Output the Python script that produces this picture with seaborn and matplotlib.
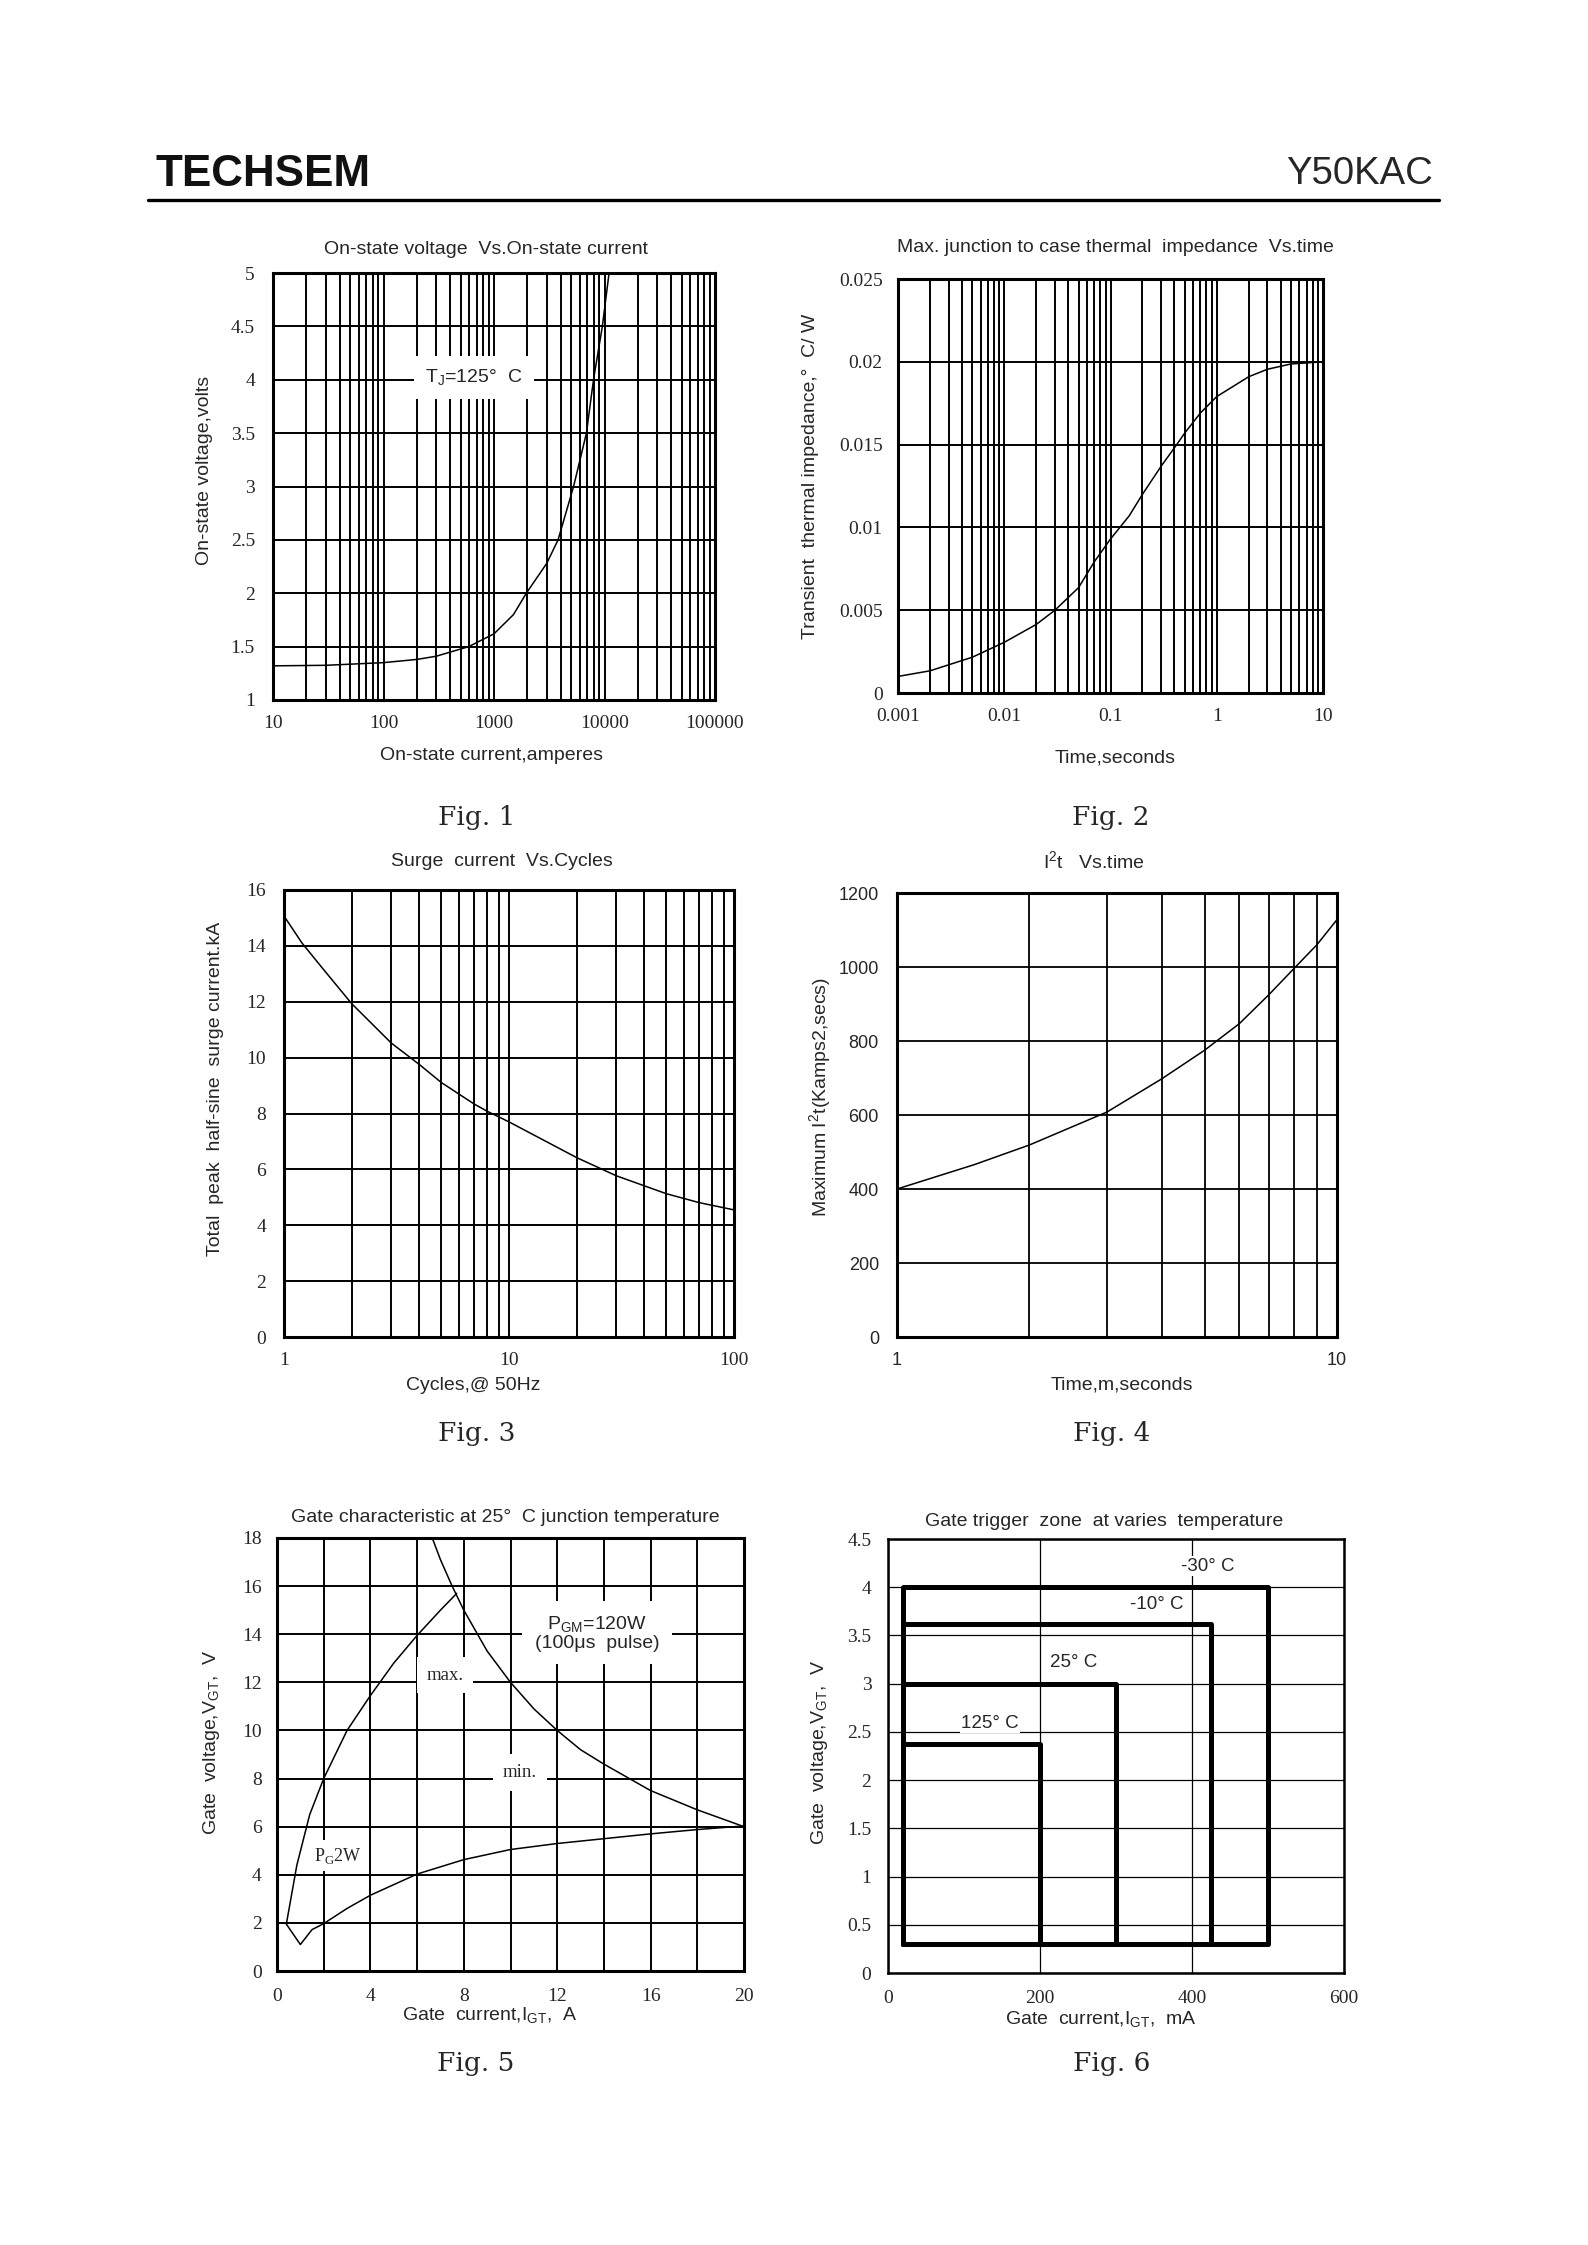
import numpy as np
import seaborn as sns
import matplotlib.pyplot as plt
from matplotlib.ticker import LogLocator, NullLocator, NullFormatter
from matplotlib.lines import Line2D

# page size in pixels
W, H = 1588, 2245

# Fig.1 on-state voltage vs on-state current
f1_current = [10, 30, 100, 200, 300, 590, 1000, 1500, 1960, 3000, 3800, 5250, 6860, 7950, 9560, 11000]
f1_voltage = [1.32, 1.325, 1.35, 1.38, 1.41, 1.5, 1.62, 1.8, 2.0, 2.28, 2.5, 3.0, 3.5, 4.0, 4.5, 5.0]
f1_xticks = [10, 100, 1000, 10000, 100000]
f1_xlabels = ["10", "100", "1000", "10000", "100000"]
f1_yticks = [1, 1.5, 2, 2.5, 3, 3.5, 4, 4.5, 5]
f1_ylabels = ["1", "1.5", "2", "2.5", "3", "3.5", "4", "4.5", "5"]

# Fig.2 transient thermal impedance vs time
f2_time = [0.001, 0.002, 0.005, 0.01, 0.02, 0.03, 0.05, 0.07, 0.1, 0.15, 0.2, 0.3, 0.42, 0.5, 0.7, 1, 2, 3, 5, 10]
f2_zth = [0.0010, 0.00134, 0.00216, 0.00306, 0.00414, 0.0050, 0.00636, 0.0079, 0.0093, 0.0107, 0.0120,
          0.0137, 0.0150, 0.0157, 0.0169, 0.0179, 0.0191, 0.01955, 0.01987, 0.0200]
f2_xticks = [0.001, 0.01, 0.1, 1, 10]
f2_xlabels = ["0.001", "0.01", "0.1", "1", "10"]
f2_yticks = [0, 0.005, 0.01, 0.015, 0.02, 0.025]
f2_ylabels = ["0", "0.005", "0.01", "0.015", "0.02", "0.025"]

# Fig.3 surge current vs cycles
f3_cycles = [1, 1.2, 1.5, 2, 3, 4, 5, 7, 8, 10, 20, 30, 50, 70, 100]
f3_surge = [15.07, 14.11, 13.15, 11.93, 10.52, 9.75, 9.11, 8.34, 8.08, 7.70, 6.42, 5.77, 5.13, 4.81, 4.55]
f3_xticks = [1, 10, 100]
f3_xlabels = ["1", "10", "100"]
f3_yticks = [0, 2, 4, 6, 8, 10, 12, 14, 16]

# Fig.4 I2t vs time
f4_time = [1, 1.5, 2, 3, 4, 5, 6, 7, 8, 9, 10]
f4_i2t = [400, 466, 519, 608, 698, 775, 847, 925, 997, 1060, 1128]
f4_xticks = [1, 10]
f4_xlabels = ["1", "10"]
f4_yticks = [0, 200, 400, 600, 800, 1000, 1200]

# Fig.5 gate characteristic
f5_max_i = [0.4, 0.85, 1.4, 2.0, 3.0, 4.0, 5.0, 6.0, 7.0, 7.7]
f5_max_v = [1.95, 4.4, 6.5, 8.0, 10.0, 11.45, 12.8, 13.95, 15.0, 15.7]
f5_min_i = [0.4, 1.0, 1.5, 2.0, 3.0, 4.0, 6.0, 8.0, 10.0, 12.0, 14.0, 16.0, 18.0, 20.0]
f5_min_v = [1.95, 1.1, 1.72, 1.97, 2.6, 3.15, 4.03, 4.63, 5.05, 5.3, 5.5, 5.7, 5.88, 6.03]
f5_pgm_i = [6.65, 7.0, 7.5, 8.0, 9.0, 10.0, 11.0, 12.0, 13.0, 14.0, 16.0, 18.0, 20.0]
f5_pgm_v = [18.0, 17.1, 16.0, 15.0, 13.3, 12.0, 10.9, 10.0, 9.2, 8.6, 7.5, 6.7, 6.0]
f5_xticks = [0, 4, 8, 12, 16, 20]
f5_xgrid = [2, 6, 10, 14, 18]
f5_yticks = [0, 2, 4, 6, 8, 10, 12, 14, 16, 18]

# Fig.6 gate trigger zones
f6_temps = ["-30° C", "-10° C", "25° C", "125° C"]
f6_right = [500, 425, 300, 200]
f6_top = [4.0, 3.62, 3.0, 2.37]
f6_left = 20
f6_bottom = 0.3
f6_xticks = [0, 200, 400, 600]
f6_yticks = [0, 0.5, 1, 1.5, 2, 2.5, 3, 3.5, 4, 4.5]
f6_ylabels = ["0", "0.5", "1", "1.5", "2", "2.5", "3", "3.5", "4", "4.5"]

sns.set_style("white")
plt.rcParams['font.family'] = ['Liberation Sans', 'DejaVu Sans']
plt.rcParams['mathtext.fontset'] = 'custom'
plt.rcParams['mathtext.rm'] = 'Liberation Sans'
SERIF = ['Liberation Serif', 'DejaVu Serif']
FIGFONT = ['DejaVu Serif']

fig = plt.figure(figsize=(W / 100, H / 100), dpi=100)
fig.patch.set_facecolor('white')


def px_axes(x0, y0, x1, y1):
    return fig.add_axes([x0 / W, 1 - y1 / H, (x1 - x0) / W, (y1 - y0) / H])


def put(x, y, s, **kw):
    kw.setdefault('fontsize', 14)
    return fig.text(x / W, 1 - y / H, s, ha='center', va='center', **kw)


def frame(ax, grid_lw=1.4, spine_lw=2.2, padx=11, pady=13):
    for sp in ax.spines.values():
        sp.set_visible(True)
        sp.set_color('k')
        sp.set_linewidth(spine_lw)
    ax.tick_params(which='both', length=0)
    ax.tick_params(axis='x', pad=padx)
    ax.tick_params(axis='y', pad=pady)
    ax.grid(True, which='both', color='k', lw=grid_lw)
    ax.set_axisbelow(True)
    ax.set_xlabel('')
    ax.set_ylabel('')


def curve(ax, x, y, lw=1.1):
    sns.lineplot(x=x, y=y, ax=ax, color='k', linewidth=lw, sort=False, estimator=None)


# header
logo = fig.text(155 / W, 1 - 175 / H, "TECHSEM", ha='left', va='center', fontsize=30, fontweight='bold',
                family=['Liberation Sans', 'DejaVu Sans'], color='#111111')
fig.canvas.draw()
logo_w = logo.get_window_extent().width
logo.set_fontsize(30 * 215 / logo_w)
fig.text(1433 / W, 1 - 174 / H, "Y50KAC", ha='right', va='center', fontsize=27.5)
fig.add_artist(Line2D([148 / W, 1439 / W], [1 - 200 / H, 1 - 200 / H], transform=fig.transFigure,
                      color='k', lw=2.4))

# ---- Fig.1
ax1 = px_axes(273, 273, 715, 700)
ax1.set_xscale('log')
curve(ax1, f1_current, f1_voltage)
ax1.set_xlim(10, 100000)
ax1.set_ylim(1, 5)
ax1.set_xticks(f1_xticks, f1_xlabels, fontfamily=SERIF, fontsize=14)
ax1.set_yticks(f1_yticks, f1_ylabels, fontfamily=SERIF, fontsize=14)
ax1.xaxis.set_minor_locator(LogLocator(base=10, subs=np.arange(2, 10), numticks=20))
ax1.xaxis.set_minor_formatter(NullFormatter())
ax1.yaxis.set_minor_locator(NullLocator())
frame(ax1)
ax1.text(660, 4.02, r"T$_\mathregular{J}$=125°  C", ha='center', va='center', fontsize=14,
         bbox=dict(fc='white', ec='none', pad=8))
put(486, 249, "On-state voltage  Vs.On-state current")
put(492, 755, "On-state current,amperes")
put(205, 470, "On-state voltage,volts", rotation=90)
put(477, 817, "Fig. 1", fontsize=19, family=FIGFONT)

# ---- Fig.2
ax2 = px_axes(898, 279, 1323, 693)
ax2.set_xscale('log')
curve(ax2, f2_time, f2_zth)
ax2.set_xlim(0.001, 10)
ax2.set_ylim(0, 0.025)
ax2.set_xticks(f2_xticks, f2_xlabels, fontfamily=SERIF, fontsize=14)
ax2.set_yticks(f2_yticks, f2_ylabels, fontfamily=SERIF, fontsize=14)
ax2.xaxis.set_minor_locator(LogLocator(base=10, subs=np.arange(2, 10), numticks=20))
ax2.xaxis.set_minor_formatter(NullFormatter())
ax2.yaxis.set_minor_locator(NullLocator())
frame(ax2, pady=11)
put(1115, 248, "Max. junction to case thermal  impedance  Vs.time")
put(1115, 758, "Time,seconds")
put(811, 476, "Transient  thermal impedance,°  C/ W", rotation=90)
put(1111, 817, "Fig. 2", fontsize=19, family=FIGFONT)

# ---- Fig.3
ax3 = px_axes(284, 890, 734, 1337)
ax3.set_xscale('log')
curve(ax3, f3_cycles, f3_surge)
ax3.set_xlim(1, 100)
ax3.set_ylim(0, 16)
ax3.set_xticks(f3_xticks, f3_xlabels, fontfamily=SERIF, fontsize=14)
ax3.set_yticks(f3_yticks, [str(v) for v in f3_yticks], fontfamily=SERIF, fontsize=14)
ax3.xaxis.set_minor_locator(LogLocator(base=10, subs=np.arange(2, 10), numticks=20))
ax3.xaxis.set_minor_formatter(NullFormatter())
ax3.yaxis.set_minor_locator(NullLocator())
frame(ax3)
put(502, 862, "Surge  current  Vs.Cycles")
put(473, 1385, "Cycles,@ 50Hz")
put(215, 1089, "Total  peak  half-sine  surge current.kA", rotation=90)
put(477, 1434, "Fig. 3", fontsize=19, family=FIGFONT)

# ---- Fig.4
ax4 = px_axes(897, 893, 1337, 1337)
ax4.set_xscale('log')
curve(ax4, f4_time, f4_i2t)
ax4.set_xlim(1, 10)
ax4.set_ylim(0, 1200)
ax4.set_xticks(f4_xticks, f4_xlabels, fontsize=13)
ax4.set_yticks(f4_yticks, [str(v) for v in f4_yticks], fontsize=13)
ax4.xaxis.set_minor_locator(LogLocator(base=10, subs=np.arange(2, 10), numticks=20))
ax4.xaxis.set_minor_formatter(NullFormatter())
ax4.yaxis.set_minor_locator(NullLocator())
frame(ax4, grid_lw=1.3)
put(1094, 862, r"I$^\mathregular{2}$t   Vs.time")
put(1122, 1385, "Time,m,seconds")
put(821, 1097, r"Maximum I$^\mathregular{2}$t(Kamps2,secs)", rotation=90)
put(1112, 1434, "Fig. 4", fontsize=19, family=FIGFONT)

# ---- Fig.5
ax5 = px_axes(277, 1538, 744, 1971)
curve(ax5, f5_max_i, f5_max_v)
curve(ax5, f5_min_i, f5_min_v)
curve(ax5, f5_pgm_i, f5_pgm_v)
ax5.set_xlim(0, 20)
ax5.set_ylim(0, 18)
ax5.set_xticks(f5_xticks, [str(v) for v in f5_xticks], fontfamily=SERIF, fontsize=14)
ax5.set_xticks(f5_xgrid, minor=True)
ax5.set_yticks(f5_yticks, [str(v) for v in f5_yticks], fontfamily=SERIF, fontsize=14)
frame(ax5, padx=12, pady=11)
ax5.text(7.2, 12.3, "max.", ha='center', va='center', fontsize=13.5, family=SERIF,
         bbox=dict(fc='white', ec='none', pad=7))
ax5.text(10.4, 8.25, "min.", ha='center', va='center', fontsize=13.5, family=SERIF,
         bbox=dict(fc='white', ec='none', pad=7))
ax5.text(13.7, 14.05, "P$_\\mathregular{GM}$=120W\n(100μs  pulse)", ha='center', va='center',
         fontsize=14, linespacing=1.0, bbox=dict(fc='white', ec='none', pad=9))
ax5.text(2.6, 4.8, "P$_\\mathregular{G}$2W", ha='center', va='center', fontsize=13, family=SERIF,
         bbox=dict(fc='white', ec='none', pad=4))
put(505, 1517, "Gate characteristic at 25°  C junction temperature")
put(490, 2016, r"Gate  current,I$_\mathregular{GT}$,  A")
put(212, 1742, r"Gate  voltage,V$_\mathregular{GT}$,  V", rotation=90)
put(476, 2063, "Fig. 5", fontsize=19, family=FIGFONT)

# ---- Fig.6
ax6 = px_axes(888, 1539, 1344, 1973)
for name, r, t in zip(f6_temps, f6_right, f6_top):
    curve(ax6, [f6_left, f6_left, r, r, f6_left], [f6_bottom, t, t, f6_bottom, f6_bottom], lw=3.6)
ax6.set_xlim(0, 600)
ax6.set_ylim(0, 4.5)
ax6.set_xticks(f6_xticks, [str(v) for v in f6_xticks], fontfamily=SERIF, fontsize=14)
ax6.set_yticks(f6_yticks, f6_ylabels, fontfamily=SERIF, fontsize=14)
frame(ax6, grid_lw=0.9, spine_lw=1.8, padx=12, pady=12)
label_pos = [(421, 4.22), (353, 3.82), (244, 3.22), (134, 2.59)]
for name, (lx, ly) in zip(f6_temps, label_pos):
    ax6.text(lx, ly, name, ha='center', va='center', fontsize=13.5,
             bbox=dict(fc='white', ec='none', pad=1))
put(1104, 1521, "Gate trigger  zone  at varies  temperature")
put(1101, 2020, r"Gate  current,I$_\mathregular{GT}$,  mA")
put(819, 1752, r"Gate  voltage,V$_\mathregular{GT}$,  V", rotation=90)
put(1112, 2063, "Fig. 6", fontsize=19, family=FIGFONT)

fig.savefig("out.png", dpi=100, facecolor='white')
